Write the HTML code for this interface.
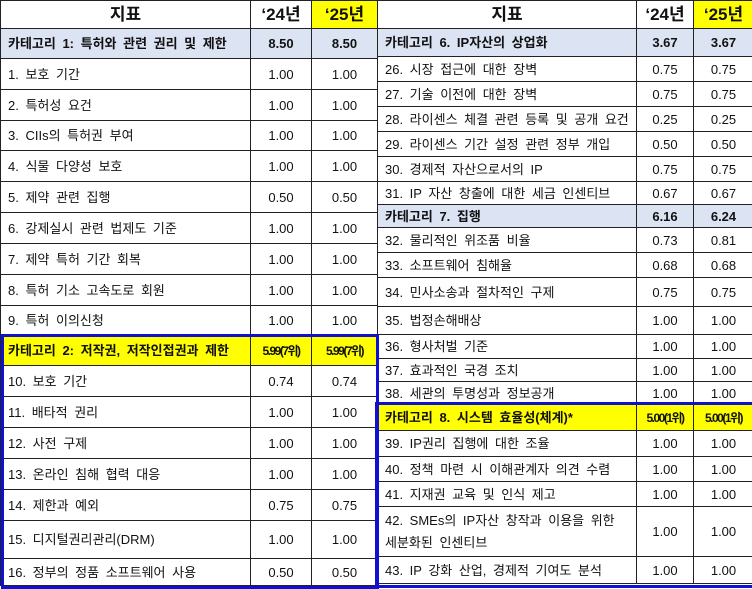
<!DOCTYPE html>
<html><head><meta charset="utf-8"><style>
body{margin:0;width:752px;height:585px;overflow:hidden;background:#fff;font-family:"Liberation Sans","Noto Sans CJK KR","NanumGothic",sans-serif;color:#111}
table{position:absolute;top:0;border-collapse:collapse;table-layout:fixed;font-size:13px}
td{border:1px solid #222;padding:0 0 0 7px;white-space:nowrap;overflow:hidden;line-height:15px;word-spacing:3px}
td.n{text-align:center;padding:0;word-spacing:0}
tr.h td{font-size:17px;font-weight:bold;text-align:center;padding:0}
tr.c td{background:#dce3f3;font-weight:bold}
tr.y td{background:#ffff00;font-weight:bold}
.y2{background:#ffff00}
.s span{display:inline-block;font-size:12px;letter-spacing:-1.5px;font-weight:bold}
.box{position:absolute;border:3px solid #1010d0;box-sizing:border-box}
</style></head><body>
<table style="left:0;width:377px">
<col style="width:250px"><col style="width:61px"><col style="width:66px">
<tr class="h" style="height:28px"><td>지표</td><td>‘24년</td><td class="y2">‘25년</td></tr>
<tr class="c" style="height:30px"><td>카테고리 1: 특허와 관련 권리 및 제한</td><td class="n">8.50</td><td class="n">8.50</td></tr>
<tr style="height:31px"><td>1. 보호 기간</td><td class="n">1.00</td><td class="n">1.00</td></tr>
<tr style="height:31px"><td>2. 특허성 요건</td><td class="n">1.00</td><td class="n">1.00</td></tr>
<tr style="height:30px"><td>3. CIIs의 특허권 부여</td><td class="n">1.00</td><td class="n">1.00</td></tr>
<tr style="height:31px"><td>4. 식물 다양성 보호</td><td class="n">1.00</td><td class="n">1.00</td></tr>
<tr style="height:31px"><td>5. 제약 관련 집행</td><td class="n">0.50</td><td class="n">0.50</td></tr>
<tr style="height:31px"><td>6. 강제실시 관련 법제도 기준</td><td class="n">1.00</td><td class="n">1.00</td></tr>
<tr style="height:31px"><td>7. 제약 특허 기간 회복</td><td class="n">1.00</td><td class="n">1.00</td></tr>
<tr style="height:31px"><td>8. 특허 기소 고속도로 회원</td><td class="n">1.00</td><td class="n">1.00</td></tr>
<tr style="height:30px"><td>9. 특허 이의신청</td><td class="n">1.00</td><td class="n">1.00</td></tr>
<tr class="y" style="height:30px"><td>카테고리 2: 저작권, 저작인접권과 제한</td><td class="n s"><span>5.99(7위)</span></td><td class="n s"><span>5.99(7위)</span></td></tr>
<tr style="height:31px"><td>10. 보호 기간</td><td class="n">0.74</td><td class="n">0.74</td></tr>
<tr style="height:31px"><td>11. 배타적 권리</td><td class="n">1.00</td><td class="n">1.00</td></tr>
<tr style="height:31px"><td>12. 사전 구제</td><td class="n">1.00</td><td class="n">1.00</td></tr>
<tr style="height:31px"><td>13. 온라인 침해 협력 대응</td><td class="n">1.00</td><td class="n">1.00</td></tr>
<tr style="height:31px"><td>14. 제한과 예외</td><td class="n">0.75</td><td class="n">0.75</td></tr>
<tr style="height:38px"><td>15. 디지털권리관리(DRM)</td><td class="n">1.00</td><td class="n">1.00</td></tr>
<tr style="height:27px"><td>16. 정부의 정품 소프트웨어 사용</td><td class="n">0.50</td><td class="n">0.50</td></tr>
</table>
<table style="left:377px;width:376px">
<col style="width:259px"><col style="width:57px"><col style="width:60px">
<tr class="h" style="height:28px"><td>지표</td><td>‘24년</td><td class="y2">‘25년</td></tr>
<tr class="c" style="height:28px"><td>카테고리 6. IP자산의 상업화</td><td class="n">3.67</td><td class="n">3.67</td></tr>
<tr style="height:25px"><td>26. 시장 접근에 대한 장벽</td><td class="n">0.75</td><td class="n">0.75</td></tr>
<tr style="height:25px"><td>27. 기술 이전에 대한 장벽</td><td class="n">0.75</td><td class="n">0.75</td></tr>
<tr style="height:25px"><td>28. 라이센스 체결 관련 등록 및 공개 요건</td><td class="n">0.25</td><td class="n">0.25</td></tr>
<tr style="height:25px"><td>29. 라이센스 기간 설정 관련 정부 개입</td><td class="n">0.50</td><td class="n">0.50</td></tr>
<tr style="height:25px"><td>30. 경제적 자산으로서의 IP</td><td class="n">0.75</td><td class="n">0.75</td></tr>
<tr style="height:23px"><td>31. IP 자산 창출에 대한 세금 인센티브</td><td class="n">0.67</td><td class="n">0.67</td></tr>
<tr class="c" style="height:23px"><td>카테고리 7. 집행</td><td class="n">6.16</td><td class="n">6.24</td></tr>
<tr style="height:25px"><td>32. 물리적인 위조품 비율</td><td class="n">0.73</td><td class="n">0.81</td></tr>
<tr style="height:25px"><td>33. 소프트웨어 침해율</td><td class="n">0.68</td><td class="n">0.68</td></tr>
<tr style="height:29px"><td>34. 민사소송과 절차적인 구제</td><td class="n">0.75</td><td class="n">0.75</td></tr>
<tr style="height:28px"><td>35. 법정손해배상</td><td class="n">1.00</td><td class="n">1.00</td></tr>
<tr style="height:24px"><td>36. 형사처벌 기준</td><td class="n">1.00</td><td class="n">1.00</td></tr>
<tr style="height:23px"><td>37. 효과적인 국경 조치</td><td class="n">1.00</td><td class="n">1.00</td></tr>
<tr style="height:23px"><td>38. 세관의 투명성과 정보공개</td><td class="n">1.00</td><td class="n">1.00</td></tr>
<tr class="y" style="height:26px"><td>카테고리 8. 시스템 효율성(체계)*</td><td class="n s"><span>5.00(1위)</span></td><td class="n s"><span>5.00(1위)</span></td></tr>
<tr style="height:26px"><td>39. IP권리 집행에 대한 조율</td><td class="n">1.00</td><td class="n">1.00</td></tr>
<tr style="height:25px"><td>40. 정책 마련 시 이해관계자 의견 수렴</td><td class="n">1.00</td><td class="n">1.00</td></tr>
<tr style="height:25px"><td>41. 지재권 교육 및 인식 제고</td><td class="n">1.00</td><td class="n">1.00</td></tr>
<tr style="height:50px"><td style="line-height:22px">42. SMEs의 IP자산 창작과 이용을 위한<br>세분화된 인센티브</td><td class="n">1.00</td><td class="n">1.00</td></tr>
<tr style="height:27px"><td>43. IP 강화 산업, 경제적 기여도 분석</td><td class="n">1.00</td><td class="n">1.00</td></tr>
</table>
<div class="box" style="left:1px;top:334px;width:378px;height:255px"></div>
<div class="box" style="left:375px;top:402px;width:380px;height:186px"></div>
</body></html>
